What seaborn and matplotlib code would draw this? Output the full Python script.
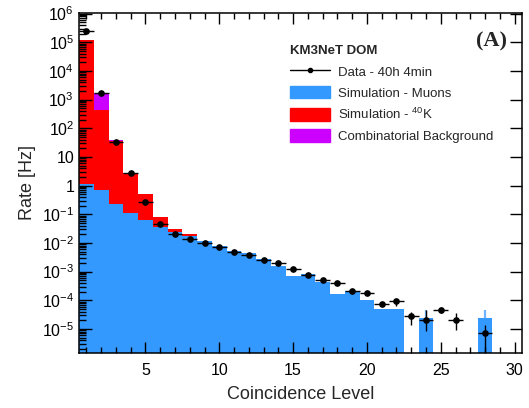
import numpy as np
import pandas as pd
import matplotlib
matplotlib.use("Agg")
import matplotlib.pyplot as plt
import seaborn as sns
from matplotlib.patches import Patch
from matplotlib.lines import Line2D
from matplotlib.ticker import FixedLocator, FuncFormatter, LogLocator, MultipleLocator, NullFormatter

# ---------------- data ----------------
levels = list(range(1, 29))

# simulation - muons (Hz), 0 = no entry
muons = [1.1, 0.73, 0.22, 0.11, 0.063, 0.036, 0.025, 0.018, 0.0117, 0.0077,
         0.0052, 0.0043, 0.0028, 1.55e-3, 6.9e-4, 8.1e-4, 4.4e-4, 1.7e-4, 2.1e-4, 1.02e-4,
         5.0e-5, 5.0e-5, 0, 2.5e-5, 0, 0, 0, 2.5e-5]
# simulation - 40K (Hz)
k40 = [1.24e5, 419, 34.8, 2.69, 0.43, 0.042, 0.005, 0.002] + [0] * 20
# combinatorial background (Hz)
comb = [0, 1280, 3.0] + [0] * 25

# data - 40h 4min
data = [2.45e5, 1700, 32, 2.7, 0.27, 0.046, 0.021, 0.0135, 0.0100, 0.0073,
        0.0050, 0.0039, 0.0025, 1.95e-3, 1.2e-3, 7.6e-4, 5.0e-4, 3.9e-4, 2.1e-4, 1.8e-4,
        7.4e-5, 9.6e-5, 2.9e-5, 2.0e-5, 4.7e-5, 2.0e-5, 0, 7.2e-6]
data_lo = [2.45e5, 1700, 32, 2.7, 0.27, 0.046, 0.021, 0.0135, 0.0100, 0.0073,
           0.0050, 0.0039, 0.0025, 1.95e-3, 1.2e-3, 7.6e-4, 5.0e-4, 3.9e-4, 1.9e-4, 1.6e-4,
           6.6e-5, 6.5e-5, 1.4e-5, 8.5e-6, 3.5e-5, 9.0e-6, 0, 1e-7]
data_hi = [2.45e5, 1700, 32, 2.7, 0.27, 0.046, 0.021, 0.0135, 0.0100, 0.0073,
           0.0050, 0.0039, 0.0025, 1.95e-3, 1.2e-3, 7.6e-4, 5.0e-4, 3.9e-4, 2.3e-4, 2.0e-4,
           8.2e-5, 1.15e-4, 4.0e-5, 4.6e-5, 6.0e-5, 3.5e-5, 0, 1.4e-5]
# simulation (muon) upper error where visible
muon_err_levels = [24, 28]
muon_err_hi = [4.6e-5, 4.6e-5]

# ---------------- style ----------------
sns.set_theme(style="ticks")
plt.rcParams["font.family"] = ["Liberation Sans", "DejaVu Sans"]
plt.rcParams["mathtext.default"] = "regular"

C_MU = "#3399ff"
C_K = "#ff0000"
C_COMB = "#cc00ff"
C_MUERR = "#6fb4ff"

df = pd.DataFrame({"level": levels, "muons": muons, "k40": k40, "comb": comb,
                   "data": data, "lo": data_lo, "hi": data_hi})
df["red_top"] = df["muons"] + df["k40"]
df["total"] = df["red_top"] + df["comb"]

fig = plt.figure(figsize=(5.29, 4.08), dpi=100)
ax = fig.add_axes([79 / 529, 55 / 408, (522 - 79) / 529, (353 - 13) / 408])
ax.set_yscale("log")

for col, c in [("total", C_COMB), ("red_top", C_K), ("muons", C_MU)]:
    sub = df[df[col] > 0]
    sns.barplot(data=sub, x="level", y=col, native_scale=True, width=1.0,
                color=c, saturation=1, errorbar=None, linewidth=0, ax=ax)

# muon simulation error (visible parts)
mu_sub = df[df["level"].isin(muon_err_levels)]
ax.errorbar(mu_sub["level"], mu_sub["muons"],
            yerr=[np.zeros(len(mu_sub)), np.array(muon_err_hi) - mu_sub["muons"].values],
            fmt="none", ecolor=C_MUERR, elinewidth=1.6, capsize=0, zorder=3)

# data points
dsub = df[df["data"] > 0]
ax.errorbar(dsub["level"], dsub["data"],
            xerr=0.5,
            yerr=[dsub["data"] - dsub["lo"], dsub["hi"] - dsub["data"]],
            fmt="o", color="black", ms=3.8, elinewidth=1.0, capsize=0, zorder=5)

# axes
ax.set_xlim(0.5, 30.5)
ax.set_ylim(1.45e-6, 1.05e6)
ax.xaxis.set_major_locator(FixedLocator([5, 10, 15, 20, 25, 30]))
ax.xaxis.set_minor_locator(MultipleLocator(1))
ax.set_xticklabels(["5", "10", "15", "20", "25", "30"])

ax.yaxis.set_major_locator(LogLocator(base=10, numticks=20))
ax.yaxis.set_minor_locator(LogLocator(base=10, subs=np.arange(2, 10), numticks=20))
ax.yaxis.set_minor_formatter(NullFormatter())


def yfmt(v, pos):
    e = int(round(np.log10(v)))
    if e == 0:
        return "1"
    if e == 1:
        return "10"
    return r"$10^{%d}$" % e


ax.yaxis.set_major_formatter(FuncFormatter(yfmt))

ax.tick_params(which="both", direction="in", top=True, right=True, colors="black",
               labelsize=11.5, width=1.0)
ax.tick_params(axis="y", which="major", length=9)
ax.tick_params(axis="y", which="minor", length=5, right=False)
ax.tick_params(axis="x", which="major", length=8, pad=7)
ax.tick_params(axis="x", which="minor", length=4.5)
for s in ax.spines.values():
    s.set_color("black")
    s.set_linewidth(1.1)
    s.set_zorder(10)
ax.set_axisbelow(False)

ax.set_xlabel("Coincidence Level", fontsize=13, labelpad=6)
ax.set_ylabel("Rate [Hz]", fontsize=13, labelpad=4)

# legend
handles = [Line2D([0], [0], color="black", lw=1.0, marker="o", ms=3),
           Patch(facecolor=C_MU, edgecolor=C_MU),
           Patch(facecolor=C_K, edgecolor=C_K),
           Patch(facecolor=C_COMB, edgecolor=C_COMB)]
labels = ["Data - 40h 4min", "Simulation - Muons", r"Simulation - $^{40}$K",
          "Combinatorial Background"]
leg = ax.legend(handles, labels, title="KM3NeT DOM", loc="upper left",
                bbox_to_anchor=(0.465, 0.92), frameon=False, fontsize=9.5,
                title_fontproperties={"weight": "bold", "size": 9.5},
                handlelength=3.0, handleheight=1.1, handletextpad=0.6,
                labelspacing=0.55, alignment="left", borderaxespad=0)

ax.text(0.966, 0.915, "(A)", transform=ax.transAxes, ha="right", va="center",
        fontsize=16, fontweight="bold", family=["Liberation Serif", "DejaVu Serif"])

fig.savefig("out.png", dpi=100)
